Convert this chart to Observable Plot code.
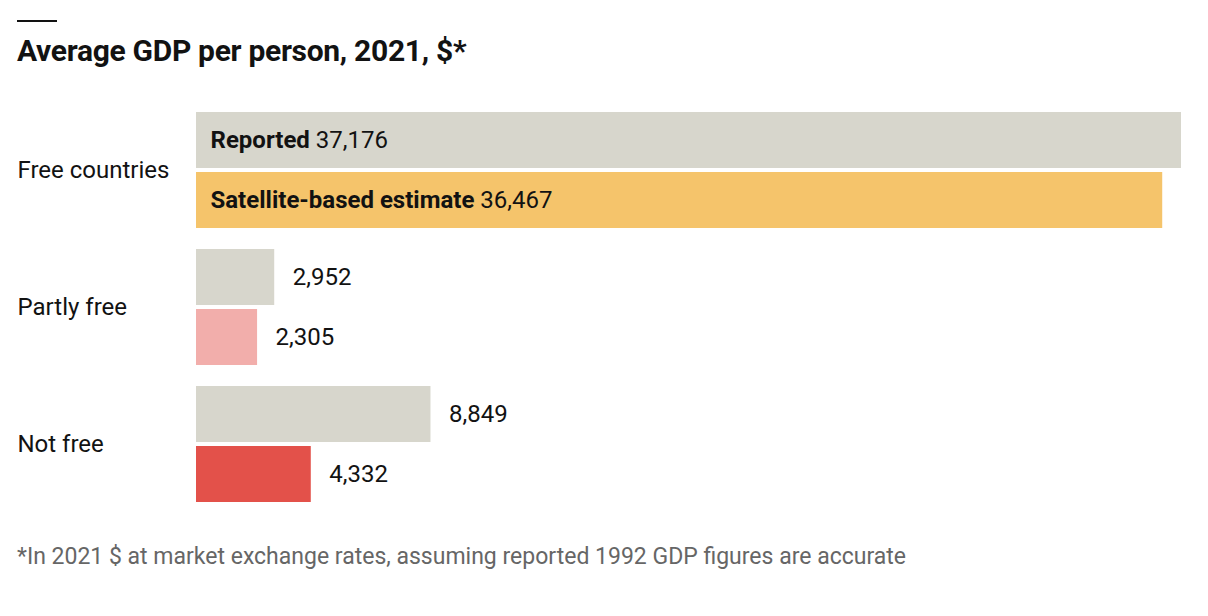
<!DOCTYPE html>
<html>
<head>
<meta charset="utf-8">
<script src="https://cdn.jsdelivr.net/npm/d3@7/dist/d3.min.js"></script>
<script src="https://cdn.jsdelivr.net/npm/@observablehq/plot@0.6/dist/plot.umd.min.js"></script>
<style>
  body { margin: 0; background: #fff; font-family: "Liberation Sans Narrow", "Roboto", sans-serif; color: #121212; }
  #wrap { width: 1208px; height: 616px; padding-top: 20px; box-sizing: border-box; }
  .rule { margin-left: 17px; width: 40px; height: 2px; background: #121212; }
  h1 { margin: 9px 0 0 17px; height: 40px; font-size: 30px; line-height: 40px; font-weight: bold; letter-spacing: -0.3px; }
  #chart { margin-top: 29px; height: 414px; }
  .note { margin: 29px 0 0 17px; font-size: 23px; color: #666; }
</style>
</head>
<body>
<div id="wrap">
  <div class="rule"></div>
  <h1>Average GDP per person, 2021, $*</h1>
  <div id="chart"></div>
  <div class="note">*In 2021 $ at market exchange rates, assuming reported 1992 GDP figures are accurate</div>
</div>
<script>
const groups = ["Free countries", "Partly free", "Not free"];
const series = ["Reported", "Satellite-based estimate"];
const reported = [37176, 2952, 8849];
const satellite = [36467, 2305, 4332];
const satColors = ["#f5c46b", "#f2aeab", "#e3514a"];
const repColor = "#d7d6cc";

const data = [];
groups.forEach((g, i) => {
  data.push({group: g, series: series[0], value: reported[i], color: repColor});
  data.push({group: g, series: series[1], value: satellite[i], color: satColors[i]});
});
const fmt = d3.format(",");
const inside = data.filter(d => d.group === groups[0]);
const outside = data.filter(d => d.group !== groups[0]);
const labels = groups.map(g => ({group: g}));

const chart = Plot.plot({
  width: 1208,
  height: 414,
  marginLeft: 196,
  marginRight: 27,
  marginTop: 11,
  marginBottom: 10,
  x: {domain: [0, 37176], axis: null},
  y: {domain: series, axis: null, paddingInner: 0.07, paddingOuter: 0},
  fy: {domain: groups, axis: null, paddingInner: 0.15, paddingOuter: 0},
  style: {fontFamily: "'Liberation Sans Narrow', Roboto, sans-serif", fontSize: "24px", color: "#121212", overflow: "visible"},
  marks: [
    Plot.barX(data, {fy: "group", y: "series", x: "value", fill: "color"}),
    Plot.text(inside, {fy: "group", y: "series", x: 0, dx: 14, textAnchor: "start",
      text: d => d.series + "|" + fmt(d.value), fill: "#121212"}),
    Plot.text(outside, {fy: "group", y: "series", x: "value", dx: 18, textAnchor: "start",
      text: d => fmt(d.value), fill: "#121212"}),
    Plot.text(labels, {fy: "group", frameAnchor: "left", dx: -179, textAnchor: "start", text: "group", fill: "#121212"})
  ]
});

d3.select(chart).selectAll("text").each(function() {
  const t = d3.select(this);
  const s = t.text();
  if (!s.includes("|")) return;
  const [name, num] = s.split("|");
  t.text(null);
  t.append("tspan").attr("font-weight", "bold").text(name);
  t.append("tspan").text(" " + num);
});

document.getElementById("chart").append(chart);
</script>
</body>
</html>
